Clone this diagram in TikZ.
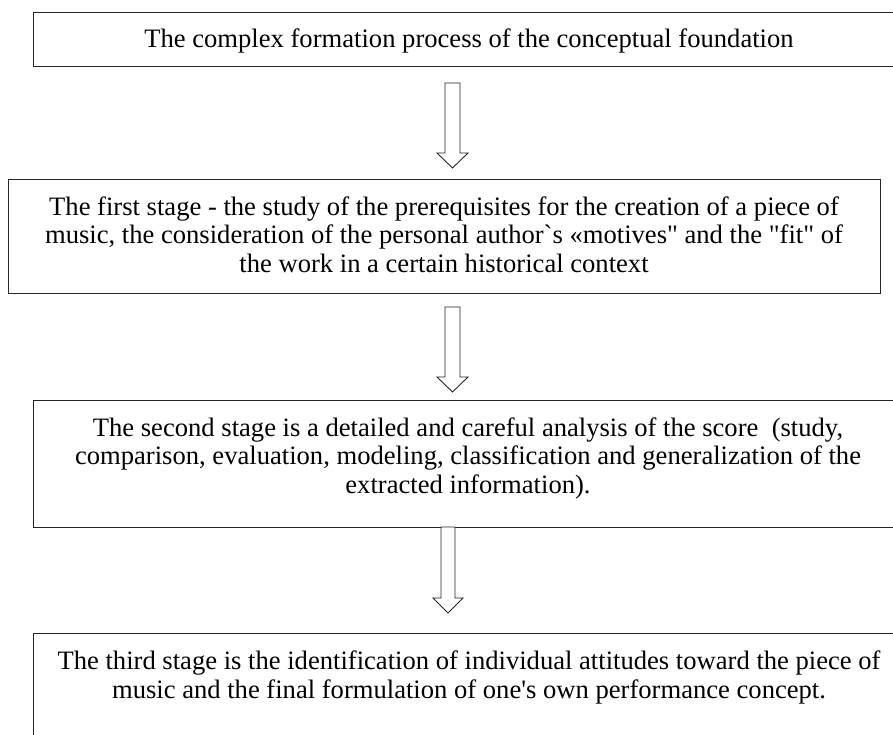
\documentclass[tikz,border=0pt]{standalone}
\usepackage{fontspec}
\setmainfont{Liberation Serif}[Ligatures=TeXOff]
\begin{document}
\begin{tikzpicture}[x=1pt,y=-1pt,
  box/.style={draw=black!85, line width=1pt, inner sep=0pt, anchor=north west},
  blockarrow/.style={draw=black!85, line width=0.9pt, fill=white, line join=miter},
  txt/.style={font=\fontsize{26.6}{28.4}\selectfont, align=center, inner sep=0pt, anchor=base}
]
\useasboundingbox (0,0) rectangle (893,735);
% boxes
\node[box, minimum width=870pt, minimum height=54pt] (b1) at (33,12.5) {};
\node[box, minimum width=872pt, minimum height=114pt] (b2) at (8,179) {};
\node[box, minimum width=870pt, minimum height=127.5pt] (b3) at (33,399.5) {};
\node[box, minimum width=870pt, minimum height=130pt] (b4) at (33,633) {};
% texts (anchor base = baseline of the last line)
\node[txt] (t1) at (469,48) {The complex formation process of the conceptual foundation};
\node[txt] (t2) at (444,272) {The first stage - the study of the prerequisites for the creation of a piece of\\
music, the consideration of the personal author`s «motives" and the "fit" of\\
the work in a certain historical context};
\node[txt] (t3) at (468,493) {The second stage is a detailed and careful analysis of the score~ (study,\\
comparison, evaluation, modeling, classification and generalization of the\\
extracted information).};
\node[txt] (t4) at (469,698) {The third stage is the identification of individual attitudes toward the piece of\\
music and the final formulation of one's own performance concept.};
% block arrows
\coordinate (a1) at (452.5,83);
\coordinate (a2) at (452.5,307);
\coordinate (a3) at (448,527);
\draw[blockarrow] (a1) ++(-7.5,0) -- ++(0,70) -- ++(-8,0) -- ++(15.5,15) -- ++(15.5,-15) -- ++(-8,0) -- ++(0,-70) -- cycle;
\draw[blockarrow] (a2) ++(-7.5,0) -- ++(0,70) -- ++(-8,0) -- ++(15.5,15) -- ++(15.5,-15) -- ++(-8,0) -- ++(0,-70) -- cycle;
\draw[blockarrow] (a3) ++(-7,0) -- ++(0,71) -- ++(-8,0) -- ++(15,15) -- ++(15,-15) -- ++(-8,0) -- ++(0,-71) -- cycle;
\end{tikzpicture}
\end{document}
